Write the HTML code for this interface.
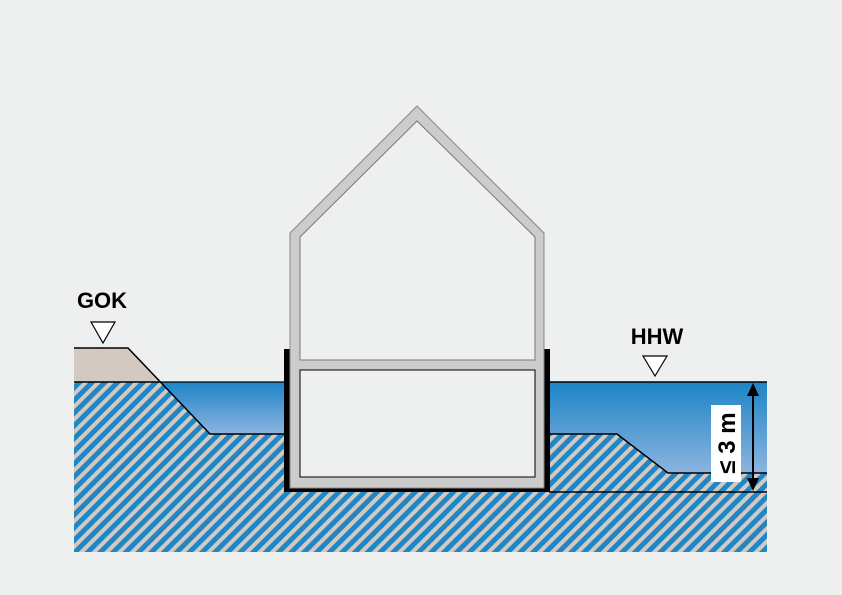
<!DOCTYPE html>
<html><head><meta charset="utf-8"><style>
html,body{margin:0;padding:0;background:#eef0ef;}
svg{display:block}
text{font-family:"Liberation Sans",sans-serif;font-weight:bold;fill:#000}
</style></head><body>
<svg width="842" height="595" viewBox="0 0 842 595" xmlns="http://www.w3.org/2000/svg">
<defs>
<pattern id="h" patternUnits="userSpaceOnUse" width="9" height="9" patternTransform="rotate(45)">
<rect width="9" height="9" fill="#d4c9c2"/>
<rect x="0" y="0" width="5" height="9" fill="#1f87c5"/>
</pattern>
<linearGradient id="w" x1="0" y1="0" x2="0" y2="1">
<stop offset="0" stop-color="#1d84c6"/><stop offset="1" stop-color="#8cb4e0"/>
</linearGradient>
</defs>
<rect width="842" height="595" fill="#eef0ef"/>
<rect x="74" y="382" width="693" height="170" fill="url(#h)"/>
<polygon points="160,382 286,382 286,434 210,434" fill="url(#w)"/>
<polygon points="549,382 767,382 767,473 668,473 617,434 549,434" fill="url(#w)"/>
<polygon points="74,348 128,348 160,382 74,382" fill="#d4c9c2"/>
<polyline points="74,348 128,348 210,434 286,434" fill="none" stroke="#000" stroke-width="1.5"/>
<line x1="74" y1="382" x2="160" y2="382" stroke="#000" stroke-width="1.5"/>
<line x1="160" y1="382" x2="286" y2="382" stroke="#000" stroke-width="1.2"/>
<line x1="549" y1="382" x2="767" y2="382" stroke="#000" stroke-width="1.5"/>
<polyline points="549,434 617,434 668,473 767,473" fill="none" stroke="#000" stroke-width="1.5"/>
<line x1="549" y1="492" x2="767" y2="492" stroke="#000" stroke-width="1.5"/>
<rect x="284" y="349" width="266" height="143" fill="#000"/>
<polygon points="290,233 417,106 544,233 544,488 290,488" fill="#cbcccb" stroke="#888" stroke-width="1"/>
<polygon points="300,237 417,121 535,237 535,360 300,360" fill="#eef0ef" stroke="#777" stroke-width="1"/>
<rect x="300" y="370" width="235" height="107" fill="#eef0ef" stroke="#000" stroke-width="1"/>
<text x="102" y="308" font-size="22" text-anchor="middle">GOK</text>
<polygon points="91,322 115,322 103,343" fill="#fff" stroke="#000" stroke-width="1.2"/>
<text x="657" y="344" font-size="22" text-anchor="middle">HHW</text>
<polygon points="643,356 667,356 655,376" fill="#fff" stroke="#000" stroke-width="1.2"/>
<rect x="711" y="405" width="30" height="77" fill="#fff"/>
<line x1="753" y1="390" x2="753" y2="484" stroke="#000" stroke-width="2"/>
<polygon points="753,383 747,396 759,396" fill="#000"/>
<polygon points="753,491 747,478 759,478" fill="#000"/>
<text transform="translate(735,443) rotate(-90)" font-size="24" text-anchor="middle">≤ 3 m</text>
</svg>
</body></html>
